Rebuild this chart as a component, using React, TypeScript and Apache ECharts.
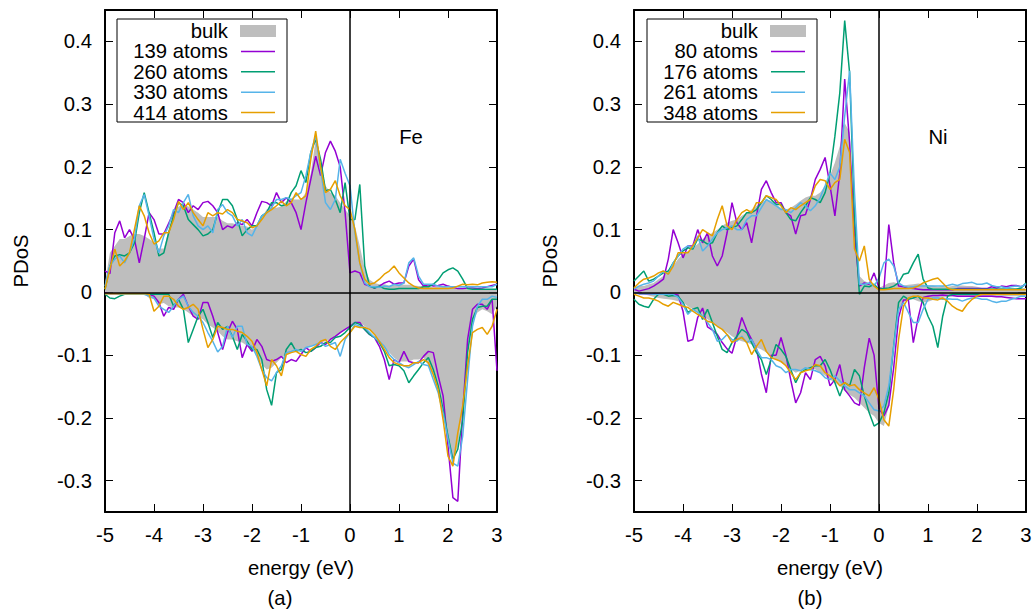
import React, { useEffect, useRef } from "react";
import * as echarts from "echarts";

// energy grid (eV), -5.0 ... 3.0 step 0.1
const energies: number[] = Array.from({ length: 81 }, (_, i) => Math.round(-50 + i) / 10);

const yTicks = [-0.3, -0.2, -0.1, 0, 0.1, 0.2, 0.3, 0.4];
const lineColors = ["#9400d3", "#009e73", "#56b4e9", "#e69f00"];
const feLabels = ["139 atoms", "260 atoms", "330 atoms", "414 atoms"];
const niLabels = ["80 atoms", "176 atoms", "261 atoms", "348 atoms"];
const panelNames = ["Fe", "Ni"];
const panelTags = ["(a)", "(b)"];

// ---------------- Fe (panel a) ----------------
const feBulkUp = [
  0.015, 0.063, 0.074, 0.085, 0.085, 0.09, 0.093, 0.093, 0.09, 0.085,
  0.08, 0.07, 0.07, 0.1, 0.127, 0.137, 0.14, 0.137, 0.132, 0.127,
  0.12, 0.12, 0.12, 0.12, 0.114, 0.11, 0.11, 0.108, 0.106, 0.105,
  0.1, 0.106, 0.12, 0.132, 0.137, 0.135, 0.137, 0.145, 0.148, 0.148,
  0.148, 0.159, 0.19, 0.244, 0.207, 0.17, 0.159, 0.154, 0.143, 0.132,
  0.122, 0.106, 0.074, 0.037, 0.02, 0.015, 0.013, 0.013, 0.011, 0.013,
  0.013, 0.012, 0.012, 0.011, 0.01, 0.01, 0.009, 0.008, 0.009, 0.009,
  0.008, 0.007, 0.006, 0.006, 0.005, 0.005, 0.005, 0.005, 0.005, 0.005,
  0.005,
];
const feBulkDown = [
  -0.001, -0.003, -0.003, -0.003, -0.003, -0.003, -0.003, -0.003, -0.003, -0.009,
  -0.011, -0.019, -0.017, -0.022, -0.024, -0.024, -0.027, -0.032, -0.038, -0.04,
  -0.043, -0.051, -0.056, -0.062, -0.07, -0.075, -0.075, -0.078, -0.08, -0.085,
  -0.091, -0.099, -0.115, -0.123, -0.12, -0.112, -0.104, -0.099, -0.096, -0.094,
  -0.091, -0.088, -0.086, -0.083, -0.08, -0.078, -0.075, -0.07, -0.064, -0.059,
  -0.054, -0.048, -0.048, -0.054, -0.059, -0.067, -0.078, -0.088, -0.096, -0.104,
  -0.11, -0.11, -0.11, -0.107, -0.107, -0.104, -0.117, -0.133, -0.155, -0.187,
  -0.229, -0.269, -0.245, -0.187, -0.096, -0.048, -0.032, -0.027, -0.03, -0.035,
  -0.022,
];
const fe139Up = [
  0.034, 0.03, 0.095, 0.114, 0.087, 0.1, 0.085, 0.047, 0.085, 0.127,
  0.116, 0.093, 0.093, 0.11, 0.127, 0.148, 0.143, 0.127, 0.138, 0.132,
  0.143, 0.145, 0.138, 0.127, 0.1, 0.106, 0.103, 0.111, 0.108, 0.116,
  0.106, 0.127, 0.145, 0.143, 0.138, 0.159, 0.143, 0.151, 0.143, 0.127,
  0.1, 0.143, 0.18, 0.217, 0.186, 0.223, 0.241, 0.225, 0.2, 0.127,
  0.031, 0.034, 0.031, 0.013, 0.01, 0.007, 0.01, 0.015, 0.018, 0.013,
  0.015, 0.015, 0.042, 0.053, 0.02, 0.01, 0.012, 0.01, 0.011, 0.013,
  0.01, 0.008, 0.006, 0.006, 0.007, 0.007, 0.006, 0.007, 0.009, 0.011,
  0.013,
];
const fe139Down = [
  -0.001, -0.002, -0.002, -0.003, -0.003, -0.003, -0.003, -0.003, -0.003, -0.003,
  -0.006, -0.016, -0.038, -0.024, -0.027, -0.011, -0.003, -0.022, -0.038, -0.043,
  -0.016, -0.016, -0.038, -0.064, -0.091, -0.064, -0.046, -0.059, -0.104, -0.083,
  -0.094, -0.075, -0.086, -0.107, -0.11, -0.107, -0.102, -0.112, -0.107, -0.11,
  -0.099, -0.088, -0.094, -0.088, -0.08, -0.083, -0.075, -0.07, -0.064, -0.059,
  -0.054, -0.048, -0.048, -0.059, -0.067, -0.072, -0.086, -0.107, -0.139, -0.107,
  -0.112, -0.094, -0.11, -0.112, -0.112, -0.102, -0.094, -0.096, -0.133, -0.165,
  -0.245, -0.327, -0.333, -0.192, -0.075, -0.027, -0.019, -0.019, -0.027, -0.011,
  -0.125,
];
const fe260Up = [
  0.005, 0.042, 0.058, 0.06, 0.058, 0.063, 0.079, 0.127, 0.159, 0.127,
  0.095, 0.058, 0.063, 0.095, 0.122, 0.143, 0.138, 0.116, 0.108, 0.1,
  0.09, 0.093, 0.1, 0.127, 0.148, 0.148, 0.138, 0.116, 0.09, 0.1,
  0.106, 0.106, 0.122, 0.127, 0.143, 0.143, 0.138, 0.14, 0.159, 0.17,
  0.194, 0.175, 0.223, 0.244, 0.212, 0.162, 0.164, 0.148, 0.127, 0.175,
  0.116, 0.116, 0.172, 0.042, 0.01, 0.007, 0.01, 0.006, 0.005, 0.005,
  0.006, 0.006, 0.006, 0.006, 0.006, 0.009, 0.009, 0.013, 0.02, 0.031,
  0.036, 0.039, 0.034, 0.021, 0.006, 0.005, 0.005, 0.005, 0.005, 0.005,
  0.005,
];
const fe260Down = [
  -0.003, -0.009, -0.01, -0.006, -0.003, -0.002, -0.003, -0.003, -0.002, -0.003,
  -0.003, -0.003, -0.003, -0.003, -0.022, -0.011, -0.027, -0.08, -0.059, -0.038,
  -0.027, -0.048, -0.072, -0.048, -0.059, -0.054, -0.07, -0.091, -0.067, -0.078,
  -0.091, -0.091, -0.107, -0.155, -0.18, -0.128, -0.123, -0.091, -0.08, -0.094,
  -0.091, -0.096, -0.094, -0.088, -0.086, -0.08, -0.08, -0.072, -0.07, -0.064,
  -0.056, -0.048, -0.051, -0.059, -0.067, -0.072, -0.08, -0.094, -0.117, -0.115,
  -0.117, -0.125, -0.144, -0.133, -0.123, -0.112, -0.104, -0.123, -0.149, -0.187,
  -0.229, -0.266, -0.25, -0.203, -0.096, -0.043, -0.024, -0.022, -0.022, -0.011,
  -0.011,
];
const fe330Up = [
  0.01, 0.042, 0.053, 0.058, 0.047, 0.063, 0.085, 0.138, 0.156, 0.122,
  0.085, 0.063, 0.09, 0.106, 0.132, 0.127, 0.143, 0.156, 0.122, 0.106,
  0.1, 0.106, 0.095, 0.132, 0.14, 0.127, 0.122, 0.106, 0.116, 0.095,
  0.09, 0.106, 0.122, 0.127, 0.135, 0.148, 0.148, 0.151, 0.148, 0.154,
  0.159, 0.186, 0.223, 0.25, 0.196, 0.143, 0.132, 0.148, 0.212, 0.19,
  0.17, 0.095, 0.047, 0.015, 0.009, 0.009, 0.008, 0.01, 0.009, 0.013,
  0.011, 0.015, 0.047, 0.055, 0.026, 0.013, 0.013, 0.013, 0.01, 0.009,
  0.009, 0.009, 0.009, 0.009, 0.009, 0.009, 0.009, 0.009, 0.009, 0.009,
  0.013,
];
const fe330Down = [
  -0.002, -0.002, -0.002, -0.003, -0.003, -0.003, -0.003, -0.003, -0.003, -0.006,
  -0.009, -0.022, -0.027, -0.032, -0.022, -0.011, -0.006, -0.022, -0.032, -0.038,
  -0.048, -0.064, -0.078, -0.095, -0.086, -0.054, -0.072, -0.054, -0.054, -0.083,
  -0.086, -0.102, -0.123, -0.136, -0.141, -0.128, -0.117, -0.096, -0.094, -0.091,
  -0.094, -0.088, -0.086, -0.083, -0.08, -0.086, -0.083, -0.08, -0.102, -0.075,
  -0.064, -0.051, -0.054, -0.056, -0.064, -0.072, -0.078, -0.086, -0.099, -0.107,
  -0.112, -0.117, -0.12, -0.115, -0.11, -0.115, -0.117, -0.139, -0.16, -0.192,
  -0.234, -0.272, -0.277, -0.229, -0.139, -0.054, -0.022, -0.011, -0.011, -0.006,
  -0.008,
];
const fe414Up = [
  0.005, 0.037, 0.069, 0.042, 0.05, 0.063, 0.1, 0.138, 0.122, 0.095,
  0.077, 0.082, 0.095, 0.095, 0.116, 0.145, 0.132, 0.143, 0.127, 0.116,
  0.106, 0.127, 0.122, 0.127, 0.125, 0.132, 0.127, 0.116, 0.114, 0.111,
  0.103, 0.106, 0.116, 0.127, 0.132, 0.138, 0.145, 0.138, 0.143, 0.159,
  0.148, 0.154, 0.212, 0.257, 0.2, 0.159, 0.164, 0.178, 0.154, 0.138,
  0.132, 0.1, 0.047, 0.021, 0.013, 0.015, 0.021, 0.029, 0.034, 0.042,
  0.031, 0.023, 0.015, 0.01, 0.007, 0.006, 0.006, 0.006, 0.006, 0.006,
  0.006, 0.007, 0.01, 0.013, 0.012, 0.013, 0.012, 0.015, 0.016, 0.017,
  0.016,
];
const fe414Down = [
  -0.002, -0.002, -0.002, -0.002, -0.002, -0.002, -0.002, -0.002, -0.002, -0.003,
  -0.03, -0.022, -0.006, -0.006, -0.011, -0.022, -0.027, -0.024, -0.019, -0.027,
  -0.059, -0.088, -0.075, -0.054, -0.056, -0.059, -0.059, -0.062, -0.064, -0.07,
  -0.078, -0.096, -0.123, -0.149, -0.107, -0.117, -0.133, -0.099, -0.096, -0.094,
  -0.099, -0.102, -0.091, -0.086, -0.078, -0.075, -0.086, -0.091, -0.08, -0.072,
  -0.064, -0.054, -0.056, -0.056, -0.059, -0.067, -0.078, -0.091, -0.104, -0.112,
  -0.115, -0.117, -0.117, -0.112, -0.112, -0.107, -0.112, -0.131, -0.155, -0.203,
  -0.261, -0.277, -0.224, -0.181, -0.117, -0.064, -0.059, -0.056, -0.067, -0.054,
  -0.027,
];

// ---------------- Ni (panel b) ----------------
const niBulkUp = [
  0.007, 0.01, 0.01, 0.013, 0.015, 0.021, 0.026, 0.034, 0.042, 0.053,
  0.061, 0.066, 0.071, 0.077, 0.085, 0.09, 0.095, 0.1, 0.106, 0.111,
  0.114, 0.116, 0.122, 0.127, 0.132, 0.138, 0.143, 0.148, 0.146, 0.14,
  0.135, 0.132, 0.135, 0.14, 0.146, 0.151, 0.154, 0.154, 0.159, 0.17,
  0.186, 0.207, 0.233, 0.27, 0.255, 0.1, 0.026, 0.018, 0.015, 0.013,
  0.007, 0.011, 0.015, 0.016, 0.014, 0.011, 0.012, 0.013, 0.014, 0.013,
  0.011, 0.011, 0.009, 0.01, 0.009, 0.01, 0.011, 0.011, 0.01, 0.01,
  0.009, 0.007, 0.007, 0.007, 0.007, 0.007, 0.007, 0.007, 0.007, 0.007,
  0.007,
];
const niBulkDown = [
  -0.001, -0.002, -0.003, -0.005, -0.007, -0.009, -0.01, -0.011, -0.012, -0.014,
  -0.016, -0.022, -0.027, -0.032, -0.038, -0.043, -0.048, -0.054, -0.059, -0.064,
  -0.07, -0.075, -0.078, -0.08, -0.083, -0.088, -0.091, -0.096, -0.102, -0.107,
  -0.112, -0.117, -0.123, -0.128, -0.125, -0.123, -0.12, -0.123, -0.128, -0.133,
  -0.139, -0.144, -0.149, -0.157, -0.163, -0.168, -0.176, -0.184, -0.192, -0.197,
  -0.208, -0.213, -0.181, -0.086, -0.032, -0.016, -0.011, -0.011, -0.014, -0.016,
  -0.015, -0.012, -0.01, -0.009, -0.007, -0.006, -0.006, -0.006, -0.006, -0.006,
  -0.006, -0.006, -0.006, -0.006, -0.006, -0.006, -0.006, -0.006, -0.006, -0.006,
  -0.006,
];
const ni80Up = [
  0.005, 0.002, 0.004, 0.006, 0.01, 0.015, 0.021, 0.053, 0.1, 0.079,
  0.055, 0.074, 0.074, 0.1, 0.079, 0.095, 0.058, 0.042, 0.058, 0.095,
  0.143, 0.111, 0.1, 0.111, 0.079, 0.122, 0.164, 0.178, 0.159, 0.143,
  0.143, 0.127, 0.122, 0.093, 0.122, 0.124, 0.148, 0.18, 0.196, 0.215,
  0.17, 0.122, 0.19, 0.34, 0.239, 0.095, 0.01, 0.015, 0.013, 0.031,
  0.007, 0.005, 0.108, 0.047, 0.01, 0.009, 0.007, 0.006, 0.005, 0.004,
  0.004, 0.004, 0.004, 0.004, 0.004, 0.004, 0.006, 0.006, 0.006, 0.006,
  0.006, 0.006, 0.006, 0.009, 0.007, 0.01, 0.009, 0.011, 0.011, 0.009,
  0.013,
];
const ni80Down = [
  -0.001, -0.002, -0.002, -0.002, -0.002, -0.002, -0.003, -0.003, -0.003, -0.004,
  -0.03, -0.078, -0.075, -0.04, -0.025, -0.055, -0.06, -0.067, -0.08, -0.09,
  -0.097, -0.07, -0.04, -0.06, -0.075, -0.09, -0.13, -0.16, -0.1, -0.1,
  -0.072, -0.1, -0.14, -0.176, -0.16, -0.128, -0.139, -0.107, -0.102, -0.117,
  -0.149, -0.139, -0.115, -0.155, -0.165, -0.176, -0.18, -0.12, -0.073, -0.1,
  -0.185, -0.197, -0.18, -0.12, -0.04, -0.012, -0.012, -0.08, -0.04, -0.008,
  -0.006, -0.005, -0.005, -0.004, -0.005, -0.005, -0.006, -0.006, -0.006, -0.006,
  -0.006, -0.006, -0.006, -0.006, -0.007, -0.007, -0.008, -0.009, -0.01, -0.01,
  -0.01,
];
const ni176Up = [
  0.018, 0.026, 0.034, 0.018, 0.021, 0.026, 0.031, 0.034, 0.047, 0.058,
  0.066, 0.071, 0.069, 0.085, 0.082, 0.077, 0.079, 0.095, 0.106, 0.1,
  0.103, 0.106, 0.116, 0.127, 0.127, 0.132, 0.143, 0.154, 0.148, 0.14,
  0.14, 0.127, 0.116, 0.114, 0.127, 0.138, 0.151, 0.148, 0.143, 0.159,
  0.19, 0.249, 0.318, 0.433, 0.35, 0.122, -0.003, 0.01, 0.009, 0.013,
  0.005, 0.006, 0.007, 0.01, 0.015, 0.029, 0.031, 0.047, 0.061, 0.021,
  0.007, 0.005, 0.005, 0.005, 0.005, 0.005, 0.005, 0.005, 0.005, 0.005,
  0.005, 0.005, 0.005, 0.005, 0.005, 0.005, 0.005, 0.005, 0.005, 0.007,
  0.015,
];
const ni176Down = [
  -0.011, -0.019, -0.022, -0.024, -0.011, -0.003, -0.003, -0.006, -0.005, -0.006,
  -0.016, -0.032, -0.027, -0.024, -0.043, -0.027, -0.048, -0.07, -0.091, -0.096,
  -0.08, -0.07, -0.059, -0.064, -0.08, -0.096, -0.107, -0.131, -0.107, -0.083,
  -0.091, -0.102, -0.123, -0.144, -0.128, -0.123, -0.12, -0.117, -0.117, -0.107,
  -0.123, -0.144, -0.165, -0.144, -0.149, -0.123, -0.133, -0.165, -0.192, -0.213,
  -0.208, -0.192, -0.16, -0.086, -0.016, -0.006, -0.011, -0.009, -0.006, -0.016,
  -0.038, -0.054, -0.088, -0.038, -0.006, -0.003, -0.003, -0.003, -0.003, -0.003,
  -0.003, -0.003, -0.003, -0.003, -0.003, -0.003, -0.003, -0.003, -0.003, -0.003,
  -0.003,
];
const ni261Up = [
  0.005, 0.01, 0.013, 0.015, 0.018, 0.026, 0.034, 0.029, 0.047, 0.058,
  0.069, 0.074, 0.071, 0.09, 0.066, 0.074, 0.085, 0.095, 0.1, 0.103,
  0.106, 0.1, 0.1, 0.116, 0.122, 0.122, 0.135, 0.148, 0.143, 0.138,
  0.132, 0.132, 0.127, 0.135, 0.143, 0.138, 0.13, 0.138, 0.151, 0.17,
  0.19, 0.18, 0.2, 0.281, 0.353, 0.159, 0.013, 0.013, 0.015, 0.01,
  0.023, 0.047, 0.053, 0.042, 0.015, 0.01, 0.008, 0.009, 0.01, 0.01,
  0.01, 0.01, 0.01, 0.01, 0.011, 0.013, 0.011, 0.014, 0.015, 0.016,
  0.013, 0.013, 0.015, 0.011, 0.009, 0.009, 0.007, 0.009, 0.01, 0.009,
  0.013,
];
const ni261Down = [
  -0.001, -0.002, -0.002, -0.002, -0.003, -0.003, -0.003, -0.003, -0.003, -0.008,
  -0.019, -0.035, -0.027, -0.032, -0.038, -0.048, -0.059, -0.078, -0.075, -0.067,
  -0.075, -0.078, -0.07, -0.08, -0.075, -0.091, -0.104, -0.104, -0.107, -0.117,
  -0.12, -0.128, -0.123, -0.123, -0.125, -0.12, -0.123, -0.125, -0.128, -0.136,
  -0.139, -0.133, -0.141, -0.149, -0.155, -0.155, -0.16, -0.165, -0.176, -0.187,
  -0.189, -0.181, -0.149, -0.086, -0.027, -0.016, -0.032, -0.048, -0.048, -0.027,
  -0.011, -0.009, -0.009, -0.011, -0.01, -0.011, -0.011, -0.014, -0.011, -0.009,
  -0.009, -0.011, -0.011, -0.014, -0.016, -0.014, -0.014, -0.011, -0.009, -0.006,
  -0.006,
];
const ni348Up = [
  0.007, 0.015, 0.021, 0.023, 0.026, 0.031, 0.034, 0.029, 0.042, 0.063,
  0.063, 0.063, 0.074, 0.087, 0.1, 0.095, 0.09, 0.116, 0.138, 0.106,
  0.1, 0.116, 0.127, 0.132, 0.127, 0.143, 0.143, 0.154, 0.151, 0.148,
  0.138, 0.127, 0.135, 0.132, 0.138, 0.143, 0.148, 0.17, 0.18, 0.178,
  0.164, 0.175, 0.18, 0.244, 0.223, 0.069, 0.05, 0.074, 0.021, 0.01,
  0.004, 0.004, 0.005, 0.006, 0.006, 0.006, 0.006, 0.007, 0.01, 0.015,
  0.018, 0.021, 0.023, 0.015, 0.007, 0.004, 0.004, 0.004, 0.004, 0.004,
  0.004, 0.004, 0.004, 0.004, 0.004, 0.004, 0.004, 0.004, 0.004, 0.004,
  0.004,
];
const ni348Down = [
  -0.003, -0.006, -0.009, -0.009, -0.011, -0.014, -0.019, -0.022, -0.016, -0.019,
  -0.022, -0.024, -0.03, -0.035, -0.04, -0.046, -0.048, -0.054, -0.059, -0.067,
  -0.08, -0.075, -0.072, -0.08, -0.099, -0.086, -0.075, -0.094, -0.104, -0.107,
  -0.11, -0.117, -0.128, -0.139, -0.128, -0.125, -0.123, -0.115, -0.117, -0.128,
  -0.133, -0.139, -0.149, -0.144, -0.149, -0.147, -0.155, -0.16, -0.165, -0.152,
  -0.171, -0.203, -0.213, -0.155, -0.075, -0.022, -0.009, -0.006, -0.006, -0.009,
  -0.009, -0.011, -0.012, -0.009, -0.014, -0.022, -0.027, -0.03, -0.019, -0.011,
  -0.006, -0.003, -0.003, -0.003, -0.003, -0.003, -0.003, -0.003, -0.003, -0.003,
  -0.003,
];

const panels = [
  {
    bulkUp: feBulkUp, bulkDown: feBulkDown,
    up: [fe139Up, fe260Up, fe330Up, fe414Up],
    down: [fe139Down, fe260Down, fe330Down, fe414Down],
    labels: feLabels,
  },
  {
    bulkUp: niBulkUp, bulkDown: niBulkDown,
    up: [ni80Up, ni176Up, ni261Up, ni348Up],
    down: [ni80Down, ni176Down, ni261Down, ni348Down],
    labels: niLabels,
  },
];

const FONT = "'Liberation Sans', Arial, Helvetica, sans-serif";
const FS = 20.3;
const BULK = "#bebebe";
const GRIDS = [
  { left: 105, top: 10, width: 392, height: 502 },
  { left: 634, top: 10, width: 392, height: 502 },
];

const pairs = (ys: number[]) => energies.map((e, i) => [e, ys[i]]);

function buildOption() {
  const xAxis: any[] = [];
  const yAxis: any[] = [];
  const series: any[] = [];
  const graphic: any[] = [];

  GRIDS.forEach((g, p) => {
    const axLine = { show: true, onZero: false, lineStyle: { color: "#000", width: 2 } };
    const tick = { show: true, inside: true, length: 8, lineStyle: { color: "#000", width: 1 } };
    const xBase = {
      type: "value", gridIndex: p, min: -5, max: 3, interval: 1,
      axisLine: axLine, axisTick: tick, splitLine: { show: false },
    };
    xAxis.push({
      ...xBase, position: "bottom",
      axisLabel: { color: "#000", fontSize: FS, fontFamily: FONT, margin: 13 },
      name: "energy (eV)", nameLocation: "middle", nameGap: 46,
      nameTextStyle: { color: "#000", fontSize: FS, fontFamily: FONT },
    });
    xAxis.push({ ...xBase, position: "top", axisLabel: { show: false } });

    const yBase = {
      type: "value", gridIndex: p, min: -0.35, max: 0.45,
      axisLine: axLine, splitLine: { show: false },
      axisTick: { ...tick, customValues: yTicks },
    };
    yAxis.push({
      ...yBase, position: "left",
      axisLabel: {
        color: "#000", fontSize: FS, fontFamily: FONT, margin: 13,
        customValues: yTicks,
        formatter: (v: number) => (Math.abs(v) < 1e-9 ? "0" : v.toFixed(1)),
      },
      name: "PDoS", nameLocation: "middle", nameGap: 74, nameRotate: 90,
      nameTextStyle: { color: "#000", fontSize: FS, fontFamily: FONT },
    });
    yAxis.push({ ...yBase, position: "right", axisLabel: { show: false, customValues: yTicks } });

    const pd = panels[p];
    const ax = { xAxisIndex: 2 * p, yAxisIndex: 2 * p };
    [pd.bulkUp, pd.bulkDown].forEach((d, k) => {
      series.push({
        type: "line", ...ax, name: "bulk" + p + k, data: pairs(d), symbol: "none",
        silent: true, z: 1, color: BULK,
        lineStyle: { width: 0, color: BULK },
        areaStyle: { color: BULK, opacity: 1, origin: 0 },
      });
    });
    for (let k = 0; k < 4; k++) {
      [pd.up[k], pd.down[k]].forEach((d, s) => {
        const last = k === 3 && s === 1;
        series.push({
          type: "line", ...ax, name: pd.labels[k] + (s ? " down" : " up"), data: pairs(d),
          symbol: "none", silent: true, z: 2 + k, color: lineColors[k],
          lineStyle: { width: 1.5, color: lineColors[k] },
          ...(last
            ? {
                markLine: {
                  silent: true, symbol: ["none", "none"], label: { show: false },
                  lineStyle: { color: "#000", width: 1.5, type: "solid" },
                  data: [{ yAxis: 0 }, { xAxis: 0 }],
                  z: 10,
                },
              }
            : {}),
        });
      });
    }

    // legend box (gnuplot style)
    const bx = p === 0 ? 117 : 647;
    const textRight = bx + 111;
    const sx0 = bx + 124;
    const sx1 = bx + 158;
    graphic.push({
      type: "rect", shape: { x: bx, y: 19, width: 170, height: 103 },
      style: { fill: "#fff", stroke: "#000", lineWidth: 1 }, z: 100,
    });
    const rows = ["bulk", ...pd.labels];
    rows.forEach((t, r) => {
      const yy = 31 + r * 20.4;
      graphic.push({
        type: "text", x: textRight, y: yy, z: 101,
        style: { text: t, fill: "#000", fontSize: FS, fontFamily: FONT, align: "right", verticalAlign: "middle" },
      });
      if (r === 0) {
        graphic.push({
          type: "rect", shape: { x: sx0 - 1, y: yy - 6, width: sx1 - sx0 + 2, height: 12 },
          style: { fill: BULK }, z: 101,
        });
      } else {
        graphic.push({
          type: "line", shape: { x1: sx0, y1: yy, x2: sx1, y2: yy },
          style: { stroke: lineColors[r - 1], lineWidth: 1.5 }, z: 101,
        });
      }
    });

    // element label and panel tag
    graphic.push({
      type: "text", x: p === 0 ? 411 : 938, y: 137, z: 101,
      style: { text: panelNames[p], fill: "#000", fontSize: FS, fontFamily: FONT, align: "center", verticalAlign: "middle" },
    });
    graphic.push({
      type: "text", x: p === 0 ? 280 : 810, y: 598, z: 101,
      style: { text: panelTags[p], fill: "#000", fontSize: FS, fontFamily: FONT, align: "center", verticalAlign: "middle" },
    });
  });

  return {
    animation: false,
    backgroundColor: "#fff",
    grid: GRIDS.map((g) => ({ ...g, containLabel: false })),
    xAxis, yAxis, series, graphic,
  };
}

export default function App() {
  const ref = useRef<HTMLDivElement>(null);
  useEffect(() => {
    if (!ref.current) return;
    const chart = echarts.init(ref.current, undefined, { renderer: "svg" });
    chart.setOption(buildOption() as any);
    return () => chart.dispose();
  }, []);
  return (
    <div
      ref={ref}
      style={{ position: "fixed", left: 0, top: 0, width: 1035, height: 610, background: "#fff" }}
    />
  );
}
